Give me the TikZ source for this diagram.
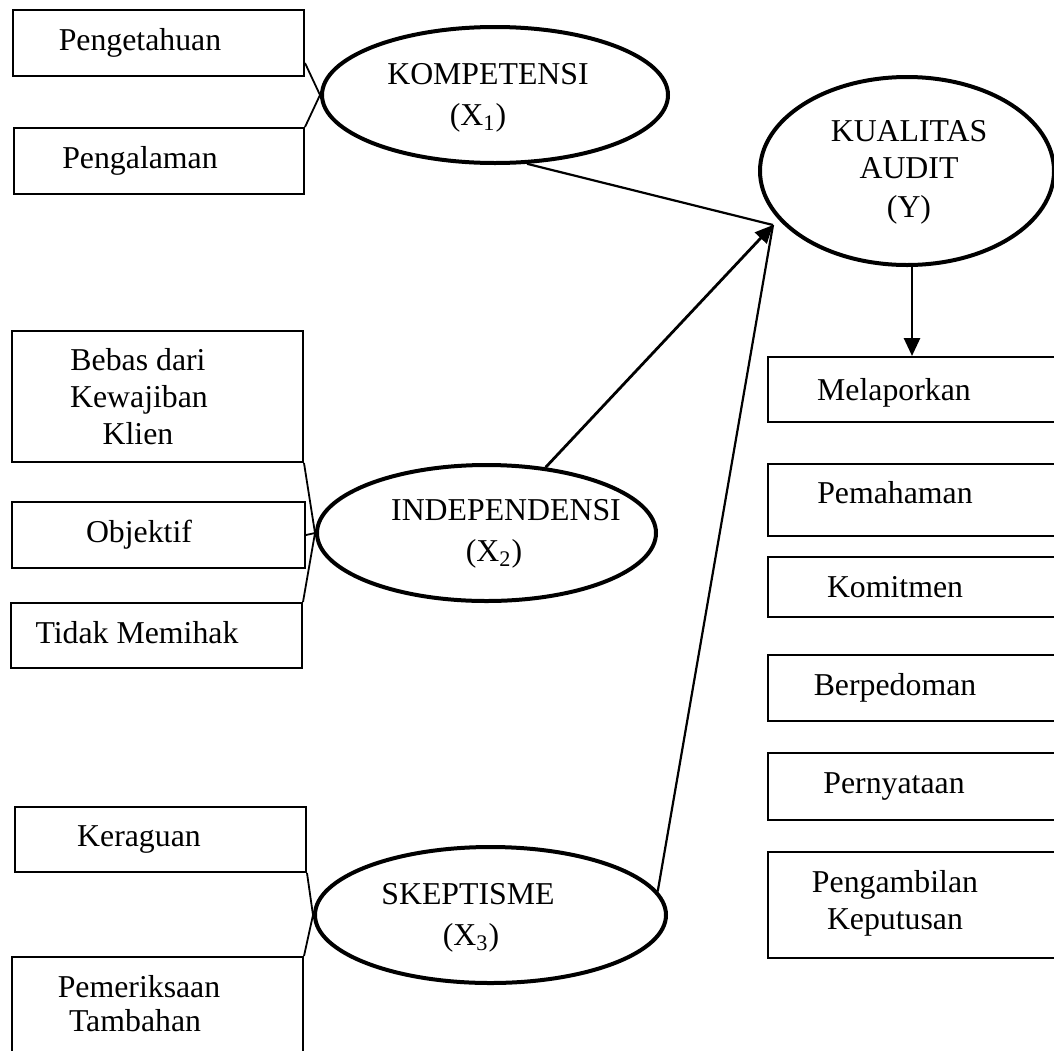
\documentclass[tikz,border=0pt]{standalone}
\usepackage{fontspec}
\setmainfont{Liberation Serif}
\usetikzlibrary{arrows.meta,shapes.geometric}
\begin{document}
\begin{tikzpicture}[x=0.5pt,y=-0.5pt,
  box/.style={draw=black, line width=1pt, rectangle, inner sep=0pt},
  ell/.style={draw=black, line width=2pt, ellipse, inner sep=0pt},
  lbl/.style={anchor=base, inner sep=0pt, font=\fontsize{15.9}{18.5}\selectfont},
  link/.style={line width=0.9pt},
  path/.style={line width=1.1pt},
  arr/.style={line width=1.4pt, -{Triangle[length=9pt,width=8pt]}}]
\useasboundingbox (0,0) rectangle (1054,1050);
\clip (0,0) rectangle (1054,1050);

% indicator boxes, left column
\node[box, minimum width=145.5pt, minimum height=33pt]   (pengetahuan) at (158.5,43)   {};
\node[box, minimum width=145pt,   minimum height=33pt]   (pengalaman)  at (159,161)    {};
\node[box, minimum width=145.5pt, minimum height=65.5pt] (bebas)       at (157.5,396.5){};
\node[box, minimum width=146.5pt, minimum height=33pt]   (objektif)    at (158.5,535)  {};
\node[box, minimum width=145.5pt, minimum height=32.5pt] (memihak)     at (156.5,635.5){};
\node[box, minimum width=145.5pt, minimum height=32.5pt] (keraguan)    at (160.5,839.5){};
\node[box, minimum width=145.5pt, minimum height=61.5pt] (pemeriksaan) at (157.5,1018.5){};

% indicator boxes, right column
\node[box, minimum width=166pt, minimum height=32.5pt] (melaporkan)  at (934,389.5) {};
\node[box, minimum width=166pt, minimum height=36pt]   (pemahaman)   at (934,500)   {};
\node[box, minimum width=166pt, minimum height=30pt]   (komitmen)    at (934,587)   {};
\node[box, minimum width=166pt, minimum height=33pt]   (berpedoman)  at (934,688)   {};
\node[box, minimum width=166pt, minimum height=33.5pt] (pernyataan)  at (934,786.5) {};
\node[box, minimum width=166pt, minimum height=53pt]   (keputusan)   at (934,905)   {};

% latent variables
\node[ell, minimum width=173pt,   minimum height=68pt] (kom) at (495,95)    {};
\node[ell, minimum width=169.5pt, minimum height=68pt] (ind) at (486.5,533) {};
\node[ell, minimum width=175.5pt, minimum height=68pt] (ske) at (490.5,915) {};
\node[ell, minimum width=147pt,   minimum height=94pt] (kua) at (907,171)   {};

% labels
\node[lbl] (t-pengetahuan) at (140,50)  {Pengetahuan};
\node[lbl] (t-pengalaman)  at (140,168) {Pengalaman};
\node[lbl] (t-bebas1)      at (138,370) {Bebas dari};
\node[lbl] (t-bebas2)      at (139,407) {Kewajiban};
\node[lbl] (t-bebas3)      at (138,444) {Klien};
\node[lbl] (t-objektif)    at (139,542) {Objektif};
\node[lbl] (t-memihak)     at (137,643) {Tidak Memihak};
\node[lbl] (t-keraguan)    at (139,846) {Keraguan};
\node[lbl] (t-periksa1)    at (139,997) {Pemeriksaan};
\node[lbl] (t-periksa2)    at (135,1031){Tambahan};

\node[lbl] (t-kom1) at (488,84)  {KOMPETENSI};
\node[lbl] (t-kom2) at (478,125) {(X\textsubscript{1})};
\node[lbl] (t-ind1) at (506,520) {INDEPENDENSI};
\node[lbl] (t-ind2) at (494,561) {(X\textsubscript{2})};
\node[lbl] (t-ske1) at (468,904) {SKEPTISME};
\node[lbl] (t-ske2) at (471,945) {(X\textsubscript{3})};
\node[lbl] (t-kua1) at (909,141) {KUALITAS};
\node[lbl] (t-kua2) at (909,178) {AUDIT};
\node[lbl] (t-kua3) at (909,217) {(Y)};

\node[lbl] (t-melaporkan) at (894,400) {Melaporkan};
\node[lbl] (t-pemahaman)  at (895,503) {Pemahaman};
\node[lbl] (t-komitmen)   at (895,597) {Komitmen};
\node[lbl] (t-berpedoman) at (895,695) {Berpedoman};
\node[lbl] (t-pernyataan) at (894,793) {Pernyataan};
\node[lbl] (t-keputusan1) at (895,892) {Pengambilan};
\node[lbl] (t-keputusan2) at (895,929) {Keputusan};

% indicators to their variables
\draw[link] ([yshift=7pt]pengetahuan.south east) -- (kom.west);
\draw[link] (pengalaman.north east) -- (kom.west);
\draw[link] (bebas.south east) -- (ind.west);
\draw[link] (objektif.east) -- (ind.west);
\draw[link] (memihak.north east) -- (ind.west);
\draw[link] (keraguan.south east) -- (ske.west);
\draw[link] (pemeriksaan.north east) -- (ske.west);

% paths into audit quality
\coordinate (tip) at (773,225);
\draw[path] (kom.-65) -- (tip);
\draw[path] (ske.8) -- (tip);
\draw[arr] (ind.48) -- (tip);
\draw[arr] ([xshift=2.5pt]kua.south) -- ([xshift=2.5pt]kua.south |- melaporkan.north);
\end{tikzpicture}
\end{document}
